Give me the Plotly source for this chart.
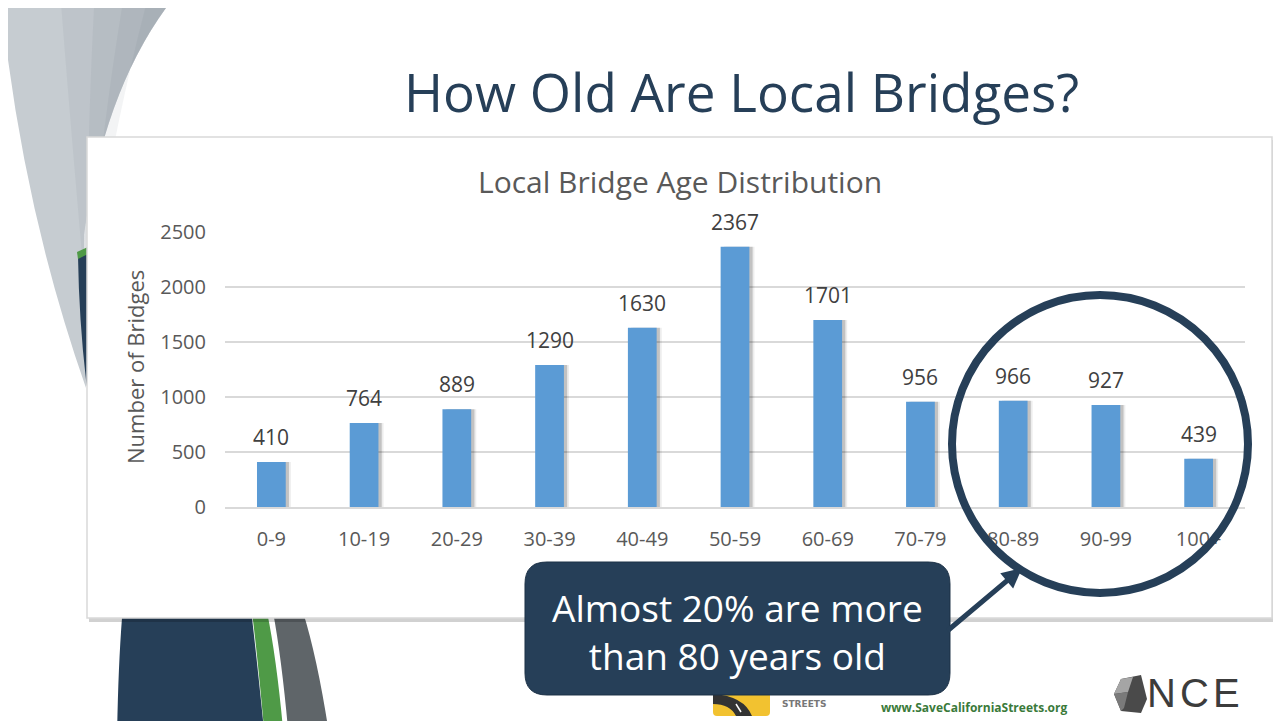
import plotly.graph_objects as go

# slide size in pixels
W, H = 1281, 721
OFF = 8  # page margin around the plot div

# chart data
age_groups = ["0-9", "10-19", "20-29", "30-39", "40-49", "50-59",
              "60-69", "70-79", "80-89", "90-99", "100+"]
bridge_counts = [410, 764, 889, 1290, 1630, 2367, 1701, 956, 966, 927, 439]
y_ticks = [0, 500, 1000, 1500, 2000, 2500]

NAVY = "#263f58"
BAR_BLUE = "#5b9bd5"
GRAY_TXT = "#595959"
FONT = "Open Sans"


def px(x):
    return (x - OFF) / W


def py(y):
    return 1 - (y - OFF) / H


def path(cmds):
    # cmds: list of (letter, [x, y, x, y ...]) in screen pixels
    out = []
    for letter, pts in cmds:
        if letter == "Z":
            out.append("Z")
            continue
        coords = []
        for i in range(0, len(pts), 2):
            coords.append(f"{px(pts[i]):.5f},{py(pts[i + 1]):.5f}")
        out.append(letter + " " + " ".join(coords))
    return " ".join(out)


def poly(points):
    cmds = [("M", list(points[0]))]
    cmds += [("L", list(p)) for p in points[1:]]
    cmds.append(("Z", []))
    return path(cmds)


def rounded_rect(x0, y0, x1, y1, r):
    return path([
        ("M", [x0 + r, y0]), ("L", [x1 - r, y0]), ("Q", [x1, y0, x1, y0 + r]),
        ("L", [x1, y1 - r]), ("Q", [x1, y1, x1 - r, y1]),
        ("L", [x0 + r, y1]), ("Q", [x0, y1, x0, y1 - r]),
        ("L", [x0, y0 + r]), ("Q", [x0, y0, x0 + r, y0]), ("Z", []),
    ])


def paper_path(d, color, layer="above", line=None):
    return dict(type="path", xref="paper", yref="paper", layer=layer,
                path=d, fillcolor=color, line=line or dict(width=0))


fig = go.Figure()

# soft shadow behind each bar
fig.add_trace(go.Bar(
    x=age_groups, y=bridge_counts, width=0.31, offset=-0.155 + 0.055,
    marker=dict(color="rgba(0,0,0,0.07)", line=dict(width=0)),
    hoverinfo="skip", showlegend=False,
))
fig.add_trace(go.Bar(
    x=age_groups, y=bridge_counts, width=0.31, offset=-0.155 + 0.035,
    marker=dict(color="rgba(0,0,0,0.18)", line=dict(width=0)),
    hoverinfo="skip", showlegend=False,
))
fig.add_trace(go.Bar(
    x=age_groups, y=bridge_counts, width=0.31, offset=-0.155,
    marker=dict(color=BAR_BLUE, line=dict(width=0)),
    showlegend=False,
))

shapes = []
# top-left grey swoosh, darkening towards its right edge
shapes.append(paper_path(
    path([("M", [0, -10]), ("L", [180, -10]),
          ("Q", [105, 80, 84, 235]), ("L", [86, 388]),
          ("Q", [20, 200, 0, -10]), ("Z", [])]),
    "#c6ccd1", layer="below"))
for left in (60, 95, 125, 150):
    shapes.append(paper_path(
        path([("M", [left, -10]), ("L", [180, -10]),
              ("Q", [105, 80, 84, 235]), ("L", [86, 300]),
              ("Q", [left * 0.5 + 40, 120, left, -10]), ("Z", [])]),
        "rgba(90,100,112,0.07)", layer="below"))
# dark navy swoosh behind the chart box
shapes.append(paper_path(
    path([("M", [90, 250]), ("L", [78, 256]),
          ("Q", [79, 320, 86, 380]), ("L", [122, 618]),
          ("Q", [118, 670, 117, 740]), ("L", [265, 740]),
          ("Q", [258, 670, 252, 618]), ("L", [200, 250]), ("Z", [])]),
    NAVY, layer="below"))
shapes.append(paper_path(poly([(90, 246), (77, 252), (78, 259), (90, 253)]),
                         "#4f9a47", layer="below"))
# green and grey stripes at the bottom
shapes.append(paper_path(
    path([("M", [252, 612]), ("L", [267, 612]), ("Q", [277, 660, 284, 740]),
          ("L", [265, 740]), ("Q", [258, 660, 252, 612]), ("Z", [])]),
    "#4f9a47", layer="below"))
shapes.append(paper_path(
    path([("M", [273, 612]), ("L", [303, 612]), ("Q", [318, 660, 330, 740]),
          ("L", [289, 740]), ("Q", [282, 660, 273, 612]), ("Z", [])]),
    "#5f6569", layer="below"))
# chart box shadow and box
shapes.append(dict(
    type="rect", layer="below", xref="paper", yref="paper",
    x0=px(89), x1=px(1275), y0=py(622), y1=py(140),
    line=dict(width=0), fillcolor="rgba(0,0,0,0.18)",
))
shapes.append(dict(
    type="rect", layer="below", xref="paper", yref="paper",
    x0=px(87), x1=px(1272), y0=py(618), y1=py(137),
    line=dict(width=1.5, color="#d9d9d9"), fillcolor="white",
))

# California Streets logo (approximation)
shapes.append(paper_path(rounded_rect(713, 686, 770, 716, 4), "#f2c230"))
shapes.append(paper_path(
    path([("M", [713, 694]), ("Q", [744, 696, 752, 716]),
          ("L", [736, 716]), ("Q", [730, 704, 713, 704]), ("Z", [])]),
    "#333333"))
shapes.append(dict(
    type="line", xref="paper", yref="paper",
    x0=px(736), x1=px(741), y0=py(704), y1=py(712),
    line=dict(width=1.5, color="white"),
))
# NCE icon (approximation)
shapes.append(paper_path(
    poly([(1121, 679), (1141, 675), (1147, 699), (1141, 713),
          (1121, 711), (1114, 694)]), "#4a4a4a"))
shapes.append(paper_path(
    poly([(1121, 679), (1133, 677), (1128, 692), (1114, 694)]), "#a5a5a5"))
shapes.append(paper_path(
    poly([(1114, 694), (1128, 692), (1124, 708), (1121, 711)]), "#7a7a7a"))

# callout box
shapes.append(paper_path(rounded_rect(525, 562, 950, 695, 22), NAVY,
                         line=dict(width=1, color="#1d3247")))
# highlight circle
shapes.append(dict(
    type="circle", xref="paper", yref="paper",
    x0=px(952), x1=px(1248), y0=py(593), y1=py(295),
    line=dict(width=8, color=NAVY),
))
# slide frame, right edge
shapes.append(dict(
    type="line", xref="paper", yref="paper",
    x0=px(1279), x1=px(1279), y0=py(740), y1=py(0),
    line=dict(width=4, color="black"),
))

annotations = []
# data labels above bars
for cat, val in zip(age_groups, bridge_counts):
    annotations.append(dict(
        x=cat, y=val, xref="x", yref="y", text=str(val), showarrow=False,
        xanchor="center", yanchor="middle", yshift=25,
        font=dict(family=FONT, size=21, color="#404040"),
    ))

annotations += [
    dict(x=px(741), y=py(92), text="How Old Are Local Bridges?",
         font=dict(family=FONT, size=53, color=NAVY)),
    dict(x=px(680), y=py(181), text="Local Bridge Age Distribution",
         font=dict(family=FONT, size=30, color=GRAY_TXT)),
    dict(x=px(135), y=py(367), text="Number of Bridges", textangle=-90,
         font=dict(family=FONT, size=22, color=GRAY_TXT)),
    dict(x=px(737), y=py(631), text="Almost 20% are more<br>than 80 years old",
         font=dict(family=FONT, size=37, color="white")),
    dict(x=px(974), y=py(707), text="<b>www.SaveCaliforniaStreets.org</b>",
         font=dict(family=FONT, size=12, color="#3a7a3a")),
    dict(x=px(804), y=py(704), text="<b>STREETS</b>",
         font=dict(family="DejaVu Sans", size=9, color="#777777")),
    dict(x=px(1161), y=py(693), text="N",
         font=dict(family="Liberation Sans", size=40, color="#3c3c3c")),
    dict(x=px(1194), y=py(693), text="C",
         font=dict(family="Liberation Sans", size=40, color="#3c3c3c")),
    dict(x=px(1226), y=py(693), text="E",
         font=dict(family="Liberation Sans", size=40, color="#3c3c3c")),
]
for a in annotations[len(age_groups):]:
    a.update(xref="paper", yref="paper", showarrow=False,
             xanchor="center", yanchor="middle")

# arrow from the callout to the circle
annotations.append(dict(
    x=px(1022), y=py(568), xref="paper", yref="paper", text="",
    showarrow=True, ax=-76, ay=64, arrowhead=2, arrowsize=0.8,
    arrowwidth=5, arrowcolor=NAVY,
))

fig.update_layout(
    width=W, height=H,
    margin=dict(l=0, r=0, t=0, b=0, pad=0, autoexpand=False),
    paper_bgcolor="white",
    plot_bgcolor="rgba(0,0,0,0)",
    barmode="overlay",
    shapes=shapes,
    annotations=annotations,
    xaxis=dict(
        domain=[px(225), px(1245)], type="category", range=[-0.5, 10.5],
        showgrid=False, showline=True, linecolor="#d9d9d9", linewidth=1.5,
        ticks="outside", ticklen=13, tickcolor="rgba(0,0,0,0)",
        tickfont=dict(family=FONT, size=20, color=GRAY_TXT),
        fixedrange=True,
    ),
    yaxis=dict(
        domain=[py(507), py(232)], range=[0, 2500], tickvals=y_ticks,
        showgrid=True, gridcolor="#d9d9d9", gridwidth=1.5, zeroline=False,
        ticks="outside", ticklen=14, tickcolor="rgba(0,0,0,0)",
        tickfont=dict(family=FONT, size=20, color=GRAY_TXT),
        fixedrange=True,
    ),
)

fig.write_html("out.html")
